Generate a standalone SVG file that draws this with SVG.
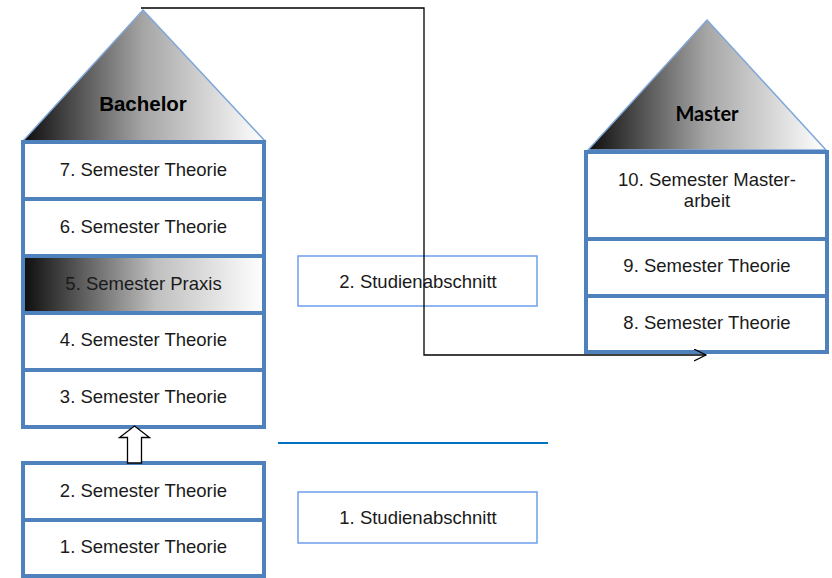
<svg xmlns="http://www.w3.org/2000/svg" width="832" height="578" viewBox="0 0 832 578">
<defs>
<linearGradient id="roof" x1="0" y1="0" x2="1" y2="0">
<stop offset="0" stop-color="#0d0d0d"/>
<stop offset="0.5" stop-color="#a6a6a6"/>
<stop offset="1" stop-color="#ffffff"/>
</linearGradient>
<linearGradient id="praxis" x1="0" y1="0" x2="1" y2="0">
<stop offset="0" stop-color="#0d0d0d"/>
<stop offset="0.55" stop-color="#bfbfbf"/>
<stop offset="1" stop-color="#ffffff"/>
</linearGradient>
<marker id="open" markerWidth="14" markerHeight="14" refX="12" refY="6" orient="auto" markerUnits="userSpaceOnUse">
<polyline points="0,0 12,6 0,12" fill="none" stroke="#000" stroke-width="1.2"/>
</marker>
</defs>
<style>
.box{fill:#fff;stroke:#4f81bd;stroke-width:4}
.roof{fill:url(#roof);stroke:#7fa7d8;stroke-width:1.5}
.sec{fill:#fff;stroke:#6d9eeb;stroke-width:1.5}
.t{font-family:"Liberation Sans",Arial,sans-serif;font-size:18.5px;fill:#1a1a1a;text-anchor:middle}
.h{font-family:"Liberation Sans",Arial,sans-serif;font-size:20.5px;font-weight:bold;fill:#000;text-anchor:middle}
.m{font-family:Lato,"Liberation Sans",sans-serif;font-size:20px;font-weight:bold;fill:#000;text-anchor:middle}
</style>
<rect width="832" height="578" fill="#fff"/>

<g id="bachelor-roof">
<polygon class="roof" points="143,10 265,141 23,141"/>
<text class="h" x="143" y="111">Bachelor</text>
</g>

<g id="sem7"><rect class="box" x="23" y="142" width="241" height="57"/><text class="t" x="143.5" y="176">7. Semester Theorie</text></g>
<g id="sem6"><rect class="box" x="23" y="199" width="241" height="57"/><text class="t" x="143.5" y="233">6. Semester Theorie</text></g>
<g id="sem5"><rect class="box" x="23" y="256" width="241" height="57" style="fill:url(#praxis)"/><text class="t" x="143.5" y="290">5. Semester Praxis</text></g>
<g id="sem4"><rect class="box" x="23" y="313" width="241" height="57"/><text class="t" x="143.5" y="346">4. Semester Theorie</text></g>
<g id="sem3"><rect class="box" x="23" y="370" width="241" height="57"/><text class="t" x="143.5" y="403">3. Semester Theorie</text></g>

<g id="sem2"><rect class="box" x="23" y="463" width="241" height="57"/><text class="t" x="143.5" y="497">2. Semester Theorie</text></g>
<g id="sem1"><rect class="box" x="23" y="520" width="241" height="56"/><text class="t" x="143.5" y="553">1. Semester Theorie</text></g>

<g id="master-roof">
<polygon class="roof" points="707,20 826,150 588,150"/>
<text class="m" x="707" y="121">Master</text>
</g>

<g id="sem10"><rect class="box" x="586" y="152" width="241" height="87"/><text class="t" x="707" y="186">10. Semester Master-</text><text class="t" x="707" y="207">arbeit</text></g>
<g id="sem9"><rect class="box" x="586" y="239" width="241" height="57"/><text class="t" x="707" y="272">9. Semester Theorie</text></g>
<g id="sem8"><rect class="box" x="586" y="296" width="241" height="56"/><text class="t" x="707" y="329">8. Semester Theorie</text></g>

<g id="abschnitt2"><rect class="sec" x="298" y="256" width="239" height="50"/><text class="t" x="418" y="288">2. Studienabschnitt</text></g>
<g id="abschnitt1"><rect class="sec" x="298" y="492" width="239" height="51"/><text class="t" x="418" y="524">1. Studienabschnitt</text></g>

<g id="connectors">
<polyline points="141,8 424,8 424,355 706,355" fill="none" stroke="#000" stroke-width="1.3" marker-end="url(#open)"/>
<polygon points="134.5,426 149.5,437.5 141.5,437.5 141.5,463 127.5,463 127.5,437.5 119.5,437.5" fill="#fff" stroke="#000" stroke-width="1.3"/>
<line x1="278" y1="443" x2="548" y2="443" stroke="#0070c0" stroke-width="2"/>
</g>
</svg>
